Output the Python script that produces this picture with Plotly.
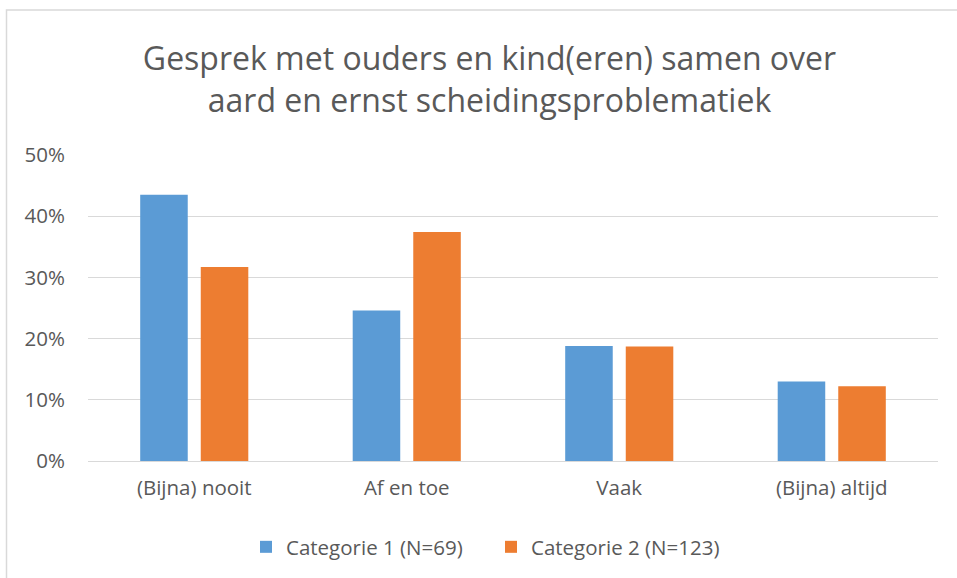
import plotly.graph_objects as go

categories = ["(Bijna) nooit", "Af en toe", "Vaak", "(Bijna) altijd"]
series1_name = "Categorie 1 (N=69)"
series1_values = [0.435, 0.246, 0.188, 0.130]
series2_name = "Categorie 2 (N=123)"
series2_values = [0.317, 0.374, 0.187, 0.122]
title_text = "Gesprek met ouders en kind(eren) samen over<br>aard en ernst scheidingsproblematiek"

FONT = "'Open Sans', sans-serif"
GRAY = "#595959"
FS = 20.5

fig = go.Figure()
fig.add_trace(go.Bar(x=categories, y=series1_values, name=series1_name,
                     marker=dict(color="#5B9BD5", line=dict(width=0))))
fig.add_trace(go.Bar(x=categories, y=series2_values, name=series2_name,
                     marker=dict(color="#ED7D31", line=dict(width=0))))

L, R, T, B = 88, 19, 155, 116
W, H = 957, 578
pw, ph = W - L - R, H - T - B

def px_x(x):
    return (x - L) / pw

def px_y(y):
    return (H - B - y) / ph

fig.update_layout(
    width=W, height=H,
    margin=dict(l=L, r=R, t=T, b=B),
    paper_bgcolor="white", plot_bgcolor="white",
    barmode="group", bargap=0.43, bargroupgap=0.215,
    title=dict(text=title_text, x=px_x(489.5), xanchor="center", xref="paper",
               y=1 - 70 / H, yanchor="middle",
               font=dict(family=FONT, size=32, color=GRAY)),
    font=dict(family=FONT, color=GRAY, size=FS),
    xaxis=dict(showgrid=False, showline=False, ticks="", ticklabelstandoff=12,
               tickfont=dict(size=FS, color=GRAY)),
    yaxis=dict(range=[0, 0.5], dtick=0.1, tickformat=".0%",
               showgrid=True, gridcolor="#d9d9d9", gridwidth=1,
               zeroline=True, zerolinecolor="#d9d9d9", zerolinewidth=1,
               showline=False, ticks="", ticklabelstandoff=22,
               tickfont=dict(size=FS, color=GRAY)),
    legend=dict(orientation="h", x=px_x(491), xanchor="center",
                y=px_y(547), yanchor="middle",
                font=dict(size=FS, color=GRAY), itemwidth=30,
                entrywidth=200, entrywidthmode="pixels",
                traceorder="normal"),
    showlegend=True,
    shapes=[dict(type="rect", xref="paper", yref="paper",
                 x0=px_x(6.5), x1=px_x(W + 5), y0=px_y(H + 5), y1=px_y(9.5),
                 line=dict(color="#d9d9d9", width=1.5), fillcolor="rgba(0,0,0,0)",
                 layer="below")],
)

fig.write_html("out.html", config={"displayModeBar": False},
               post_script="document.body.style.margin='0';")
